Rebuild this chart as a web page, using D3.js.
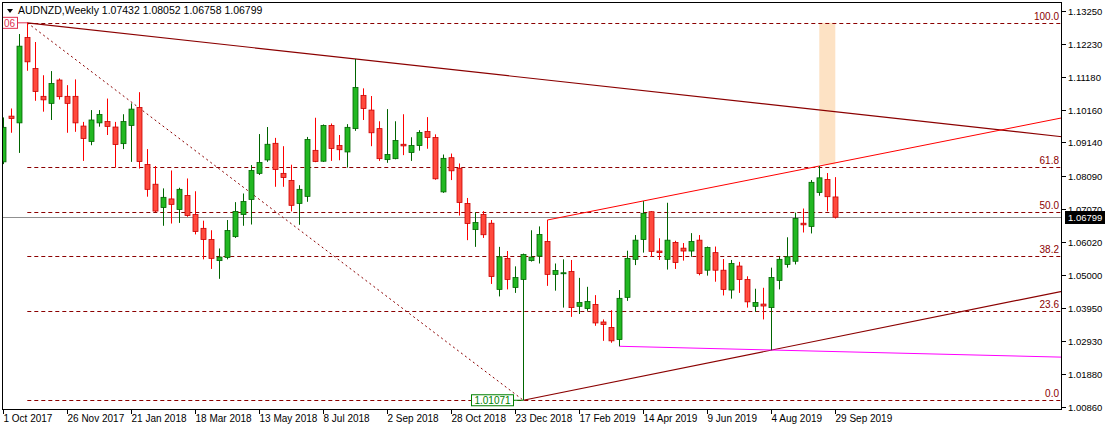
<!DOCTYPE html>
<html><head><meta charset="utf-8">
<script src="https://cdn.jsdelivr.net/npm/d3@7/dist/d3.min.js"></script>
<style>body{margin:0;background:#fff}svg{display:block}text{font-family:"Liberation Sans",Arial,sans-serif}</style>
</head><body><svg id="c" width="1107" height="431"></svg>
<script>
const opens=[1.0853,1.0996,1.0975,1.1242,1.1145,1.1058,1.1036,1.1109,1.1058,1.1058,1.0965,1.0917,1.0975,1.0979,1.0962,1.0910,1.0967,1.1023,1.0845,1.0783,1.0710,1.0737,1.0704,1.0748,1.0688,1.0645,1.0610,1.0544,1.0554,1.0619,1.0688,1.0735,1.0817,1.0859,1.0911,1.0817,1.0795,1.0723,1.0745,1.0889,1.0855,1.0967,1.0904,1.0884,1.0957,1.1061,1.1015,1.0957,1.0860,1.0863,1.0908,1.0882,1.0904,1.0948,1.0929,1.0759,1.0866,1.0833,1.0723,1.0641,1.0688,1.0661,1.0454,1.0551,1.0460,1.0485,1.0544,1.0558,1.0604,1.0501,1.0504,1.0510,1.0401,1.0394,1.0407,1.0352,1.0335,1.0297,1.0429,1.0548,1.0610,1.0697,1.0574,1.0548,1.0601,1.0583,1.0574,1.0608,1.0514,1.0569,1.0514,1.0452,1.0527,1.0485,1.0401,1.0408,1.0397,1.0482,1.0532,1.0542,1.0661,1.0651,1.0757,1.0798,1.07432];
const highs=[1.0992,1.1020,1.1253,1.1288,1.1228,1.1124,1.1137,1.1114,1.1093,1.1111,1.0978,1.1015,1.1015,1.1051,1.0978,1.1002,1.1036,1.1071,1.0893,1.0840,1.0770,1.0826,1.0772,1.0801,1.0761,1.0669,1.0639,1.0582,1.0671,1.0727,1.0754,1.0843,1.0940,1.0962,1.0928,1.0902,1.0844,1.0780,1.0931,1.0991,1.0970,1.0973,1.0937,1.0971,1.1175,1.1083,1.1059,1.0980,1.1018,1.0980,1.1002,1.0930,1.0952,1.0993,1.0939,1.0876,1.0879,1.0848,1.0740,1.0695,1.0699,1.0671,1.0587,1.0574,1.0526,1.0566,1.0639,1.0651,1.0671,1.0535,1.0548,1.0546,1.0490,1.0462,1.0436,1.0360,1.0389,1.0452,1.0575,1.0624,1.0730,1.0699,1.0614,1.0725,1.0606,1.0599,1.0630,1.0624,1.0588,1.0588,1.0549,1.0546,1.0540,1.0495,1.0456,1.0459,1.0522,1.0556,1.0617,1.0694,1.0707,1.0796,1.0840,1.0818,1.08052];
const lows=[1.0846,1.0944,1.0881,1.1138,1.1044,1.1010,1.0984,1.1048,1.0944,1.0947,1.0856,1.0905,1.0963,1.0937,1.0835,1.0893,1.0853,1.0832,1.0744,1.0696,1.0653,1.0660,1.0662,1.0681,1.0626,1.0548,1.0518,1.0487,1.0548,1.0615,1.0653,1.0657,1.0812,1.0853,1.0775,1.0775,1.0698,1.0656,1.0728,1.0852,1.0853,1.0856,1.0858,1.0835,1.0950,1.0984,1.0902,1.0856,1.0850,1.0861,1.0874,1.0856,1.0888,1.0894,1.0797,1.0756,1.0796,1.0685,1.0608,1.0587,1.0615,1.0471,1.0432,1.0454,1.0443,1.01071,1.0541,1.0535,1.0465,1.0450,1.0397,1.0368,1.0377,1.0387,1.0340,1.0293,1.0287,1.0276,1.0418,1.0530,1.0569,1.0556,1.0546,1.0516,1.0518,1.0544,1.0556,1.0498,1.0497,1.0478,1.0435,1.0425,1.0443,1.0397,1.0384,1.0360,1.0264,1.0454,1.0522,1.0532,1.0632,1.0629,1.0747,1.0698,1.06758];
const closes=[1.0961,1.0989,1.1215,1.1166,1.1073,1.1047,1.1098,1.1057,1.1036,1.0975,1.0926,1.0984,1.1001,1.0964,1.0907,1.0979,1.1018,1.0854,1.0767,1.0699,1.0742,1.0720,1.0767,1.0685,1.0635,1.0610,1.0551,1.0555,1.0638,1.0698,1.0729,1.0826,1.0851,1.0908,1.0829,1.0804,1.0717,1.0767,1.0923,1.0854,1.0967,1.0895,1.0891,1.0961,1.1086,1.1020,1.0944,1.0863,1.0876,1.0920,1.0903,1.0904,1.0945,1.0929,1.0800,1.0864,1.0825,1.0726,1.0660,1.0663,1.0625,1.0494,1.0556,1.0485,1.0491,1.0563,1.0555,1.0626,1.0501,1.0513,1.0506,1.0397,1.0413,1.0416,1.0349,1.0344,1.0293,1.0426,1.0551,1.0608,1.0692,1.0573,1.0569,1.0608,1.0538,1.0574,1.0604,1.0504,1.0585,1.0514,1.0454,1.0535,1.0485,1.0415,1.0413,1.0402,1.0491,1.0548,1.0556,1.0676,1.0656,1.0789,1.0803,1.0744,1.06799];
const dateLabels=["1 Oct 2017","26 Nov 2017","21 Jan 2018","18 Mar 2018","13 May 2018","8 Jul 2018","2 Sep 2018","28 Oct 2018","23 Dec 2018","17 Feb 2019","14 Apr 2019","9 Jun 2019","4 Aug 2019","29 Sep 2019"];
const dateIdx=[0,8,16,24,32,40,48,56,64,72,80,88,96,104];
const priceTicks=[1.13250,1.12230,1.11180,1.10160,1.09140,1.08090,1.07070,1.06020,1.05000,1.03950,1.02930,1.01880,1.00860];
const fibRatios=[1,0.618,0.5,0.382,0.236,0];
const fibLabels=["100.0","61.8","50.0","38.2","23.6","0.0"];
const fibHigh=1.1288, fibLow=1.01071;
const lastPrice=1.06799;
const title="AUDNZD,Weekly  1.07432 1.08052 1.06758 1.06799";
const downTrend=[3,1.1288,44,1.1175];
const dotLine=[3,1.1288,65,1.01071];
const redTrend=[68,1.0671,132,1.0989];
const lowTrend=[65,1.01071,96,1.0264];
const magenta=[77,1.0276,132.3,1.0242];

const svg=d3.select("#c");
const L=2,R=1062,T=2,B=410;
const x=d3.scaleLinear().domain([0,104]).range([3.3,835.3]);
const y=d3.scaleLinear().domain([1.00860,1.13250]).range([407,11]);
const xR=x.invert(R);
svg.append("defs").append("clipPath").attr("id","pc").append("rect").attr("x",L).attr("y",T).attr("width",R-L).attr("height",B-T);
const g=svg.append("g").attr("clip-path","url(#pc)");

g.append("rect").attr("x",x(102)).attr("width",x(104)-x(102)).attr("y",y(fibHigh)).attr("height",y(1.0845)-y(fibHigh)).attr("fill","#fde2c4");

fibRatios.forEach((r,i)=>{const p=fibLow+(fibHigh-fibLow)*r;
 g.append("line").attr("x1",x(3)).attr("x2",R).attr("y1",Math.round(y(p))+.5).attr("y2",Math.round(y(p))+.5).attr("stroke","#8b0000").attr("stroke-dasharray","4,3");
 svg.append("text").attr("x",R-3).attr("y",Math.round(y(p))-3).attr("text-anchor","end").attr("font-size",10).attr("fill","#8b0000").text(fibLabels[i]);});

g.append("line").attr("x1",L).attr("x2",R).attr("y1",Math.round(y(lastPrice))+.5).attr("y2",Math.round(y(lastPrice))+.5).attr("stroke","#909090");

function tl(a,color,dash,extend,w){const s=(a[3]-a[1])/(a[2]-a[0]);const x2=extend?xR:a[2];
 g.append("line").attr("x1",x(a[0])).attr("y1",y(a[1])).attr("x2",x(x2)).attr("y2",y(a[1]+s*(x2-a[0]))).attr("stroke",color).attr("stroke-width",w||1).attr("stroke-dasharray",dash||null);}
tl(downTrend,"#8b0000",null,true,1.2);
tl(dotLine,"#8b0000","2,3",false);
tl(redTrend,"#ff0000",null,true);
tl(lowTrend,"#8b0000",null,true,1.2);
tl(magenta,"#ff00ff",null,true);

opens.forEach((o,i)=>{const c=closes[i],up=c>=o,cx=Math.round(x(i))+.5;
 const wc=up?"#006400":"#ff0000";
 g.append("line").attr("x1",cx).attr("x2",cx).attr("y1",y(highs[i])).attr("y2",y(lows[i])).attr("stroke",wc);
 const t=y(Math.max(o,c)),b=y(Math.min(o,c));
 g.append("rect").attr("x",cx-2.5).attr("width",5).attr("y",t).attr("height",Math.max(1,b-t)).attr("fill",up?"#22b822":"#ff4a3d").attr("stroke",up?"#006400":"#c80000").attr("stroke-width",0.8);});

const ly=y(fibLow);
g.append("line").attr("x1",513).attr("x2",x(65)).attr("y1",ly).attr("y2",ly).attr("stroke","#008000");
svg.append("rect").attr("x",471.5).attr("y",ly-5.5).attr("width",42).attr("height",11).attr("fill","#fff").attr("stroke","#008000");
svg.append("text").attr("x",492.5).attr("y",ly+4).attr("text-anchor","middle").attr("font-size",10).attr("fill","#008000").text("1.01071");
svg.append("rect").attr("x",2.5).attr("y",y(fibHigh)-5.5).attr("width",15).attr("height",11).attr("fill","#fff").attr("stroke","#e03050");
svg.append("text").attr("x",4).attr("y",y(fibHigh)+4).attr("font-size",10).attr("fill","#e03050").text("06");
svg.append("line").attr("x1",17.5).attr("x2",x(3)).attr("y1",y(fibHigh)).attr("y2",y(fibHigh)).attr("stroke","#e03050");

svg.append("rect").attr("x",L+.5).attr("y",T+.5).attr("width",R-L-1).attr("height",B-T-1).attr("fill","none").attr("stroke","#000");

priceTicks.forEach(p=>{const yy=Math.round(y(p))+.5;
 svg.append("line").attr("x1",R).attr("x2",R+4).attr("y1",yy).attr("y2",yy).attr("stroke","#000");
 svg.append("text").attr("x",R+6).attr("y",yy+3.5).attr("font-size",9.5).attr("fill","#000").text(p.toFixed(5));});
const lpy=Math.round(y(lastPrice));
svg.append("rect").attr("x",R+3).attr("y",lpy-6).attr("width",40).attr("height",13).attr("fill","#000");
svg.append("text").attr("x",R+6).attr("y",lpy+4).attr("font-size",9.5).attr("fill","#fff").text(lastPrice.toFixed(5));

dateIdx.forEach((d,i)=>{const xx=Math.round(x(d))+.5;
 svg.append("line").attr("x1",xx).attr("x2",xx).attr("y1",B).attr("y2",B+4).attr("stroke","#000");
 svg.append("text").attr("x",xx).attr("y",B+12).attr("font-size",10).attr("fill","#000").text(dateLabels[i]);});

svg.append("path").attr("d","M7,9 L13,9 L10,13 Z").attr("fill","#000");
svg.append("text").attr("x",18).attr("y",14).attr("font-size",10.5).attr("fill","#000").text(title);
</script></body></html>
